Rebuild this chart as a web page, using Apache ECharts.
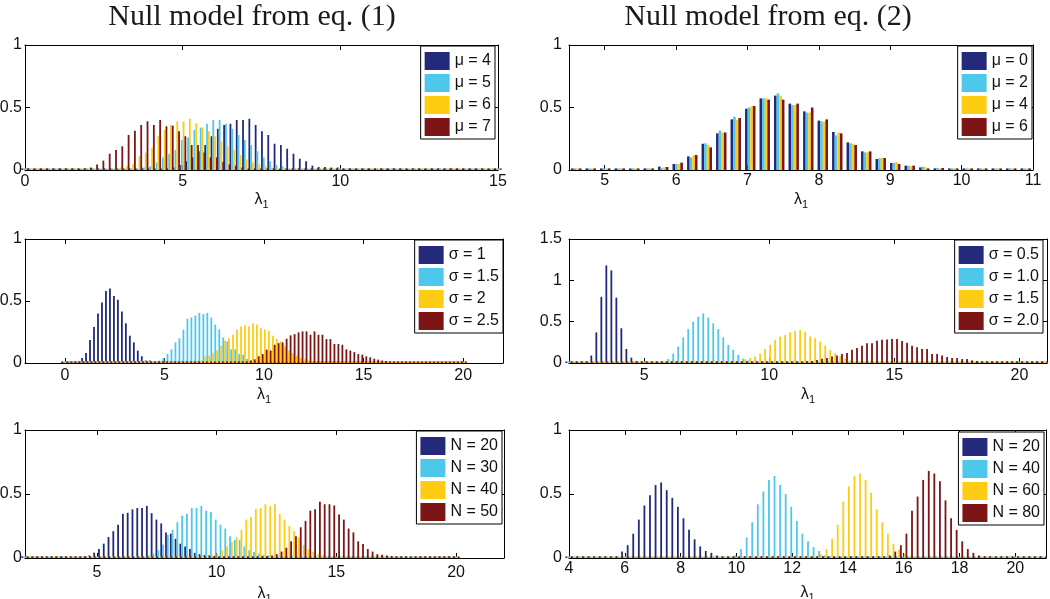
<!DOCTYPE html>
<html>
<head>
<meta charset="utf-8">
<script src="https://cdn.jsdelivr.net/npm/echarts@6/dist/echarts.min.js"></script>
<style>
html,body{margin:0;padding:0;background:#fff;}
#chart{width:1050px;height:599px;}
</style>
</head>
<body>
<div id="chart"></div>
<script>
// ---------------- DATA ----------------
const titles = ['Null model from eq. (1)', 'Null model from eq. (2)'];

// Panel 1 (eq. 1, varying mu)
const p1Bins = [0,0.2,0.4,0.6,0.8,1,1.2,1.4,1.6,1.8,2,2.2,2.4,2.6,2.8,3,3.2,3.4,3.6,3.8,4,4.2,4.4,4.6,4.8,5,5.2,5.4,5.6,5.8,6,6.2,6.4,6.6,6.8,7,7.2,7.4,7.6,7.8,8,8.2,8.4,8.6,8.8,9,9.2,9.4,9.6,9.8,10,10.2,10.4,10.6,10.8,11,11.2,11.4,11.6,11.8,12,12.2,12.4,12.6,12.8,13,13.2,13.4,13.6,13.8,14,14.2,14.4,14.6,14.8,15];
const p1Labels = ['μ = 4','μ = 5','μ = 6','μ = 7'];
const p1Starts = [4.4, 3.6, 2.8, 1.8];
const p1S1 = [0.005,0.01,0.02,0.04,0.07,0.1,0.15,0.2,0.27,0.33,0.36,0.37,0.4,0.4,0.41,0.36,0.31,0.28,0.21,0.2,0.17,0.13,0.09,0.07,0.035,0.025,0.025,0.02,0.02];
const p1S2 = [0.01,0.02,0.03,0.06,0.1,0.13,0.16,0.24,0.26,0.32,0.34,0.37,0.4,0.4,0.37,0.33,0.28,0.24,0.2,0.15,0.1,0.07,0.04,0.03,0.01];
const p1S3 = [0.01,0.02,0.03,0.05,0.11,0.14,0.18,0.27,0.32,0.36,0.39,0.39,0.41,0.375,0.34,0.31,0.27,0.23,0.19,0.16,0.12,0.085,0.06,0.045,0.03,0.02,0.01];
const p1S4 = [0.01,0.02,0.045,0.075,0.13,0.16,0.19,0.28,0.315,0.36,0.39,0.36,0.4,0.35,0.355,0.31,0.27,0.2,0.2,0.14,0.1,0.1,0.065,0.045,0.035,0.02,0.01,0.01,0.005];
const p1XTicks = [0,5,10,15];
const p1YTicks = [0,0.5,1];

// Panel 2 (eq. 2, varying mu)
const p2Bins = [4.602,4.805,5.008,5.211,5.414,5.617,5.82,6.023,6.227,6.43,6.633,6.836,7.039,7.242,7.445,7.648,7.852,8.055,8.258,8.461,8.664,8.867,9.07,9.273,9.477,9.68,9.883,10.086,10.289,10.492,10.695,10.898];
const p2Labels = ['μ = 0','μ = 2','μ = 4','μ = 6'];
const p2Starts = [4.602, 4.602, 4.602, 4.602];
const p2S1 = [0,0,0,0,0.002,0.005,0.027,0.048,0.109,0.21,0.293,0.405,0.49,0.573,0.595,0.531,0.469,0.395,0.304,0.221,0.149,0.088,0.056,0.035,0.021,0.013,0.005,0.003,0.002,0,0,0];
const p2S2 = [0,0,0,0,0.002,0.003,0.013,0.048,0.099,0.213,0.315,0.427,0.5,0.573,0.613,0.52,0.459,0.389,0.277,0.213,0.141,0.093,0.056,0.035,0.027,0.016,0.005,0.003,0.002,0,0,0];
const p2S3 = [0,0,0,0,0.002,0.005,0.024,0.048,0.117,0.2,0.3,0.4,0.509,0.573,0.595,0.52,0.459,0.387,0.3,0.208,0.141,0.099,0.064,0.032,0.021,0.011,0.005,0.003,0.002,0,0,0];
const p2S4 = [0,0,0,0,0.002,0.005,0.024,0.059,0.12,0.181,0.3,0.416,0.512,0.563,0.563,0.531,0.5,0.405,0.293,0.2,0.149,0.096,0.048,0.035,0.011,0.016,0.01,0.004,0.002,0,0,0];
const p2XTicks = [5,6,7,8,9,10,11];
const p2YTicks = [0,0.5,1];

// Panel 3 (eq. 1, varying sigma)
const p3Bins = [0,0.2,0.4,0.6,0.8,1,1.2,1.4,1.6,1.8,2,2.2,2.4,2.6,2.8,3,3.2,3.4,3.6,3.8,4,4.2,4.4,4.6,4.8,5,5.2,5.4,5.6,5.8,6,6.2,6.4,6.6,6.8,7,7.2,7.4,7.6,7.8,8,8.2,8.4,8.6,8.8,9,9.2,9.4,9.6,9.8,10,10.2,10.4,10.6,10.8,11,11.2,11.4,11.6,11.8,12,12.2,12.4,12.6,12.8,13,13.2,13.4,13.6,13.8,14,14.2,14.4,14.6,14.8,15,15.2,15.4,15.6,15.8,16,16.2,16.4,16.6,16.8,17,17.2,17.4,17.6,17.8,18,18.2,18.4,18.6,18.8,19,19.2,19.4,19.6,19.8,20];
const p3Labels = ['σ = 1','σ = 1.5','σ = 2','σ = 2.5'];
const p3Starts = [0.4, 4.6, 6.4, 8.6];
const p3S1 = [0.005,0.008,0.013,0.04,0.08,0.185,0.29,0.4,0.488,0.58,0.6,0.54,0.51,0.415,0.32,0.22,0.166,0.1,0.054,0.02,0.02,0.01,0.008];
const p3S2 = [0.01,0.02,0.04,0.075,0.11,0.166,0.2,0.27,0.357,0.367,0.383,0.405,0.394,0.405,0.367,0.31,0.27,0.206,0.174,0.11,0.11,0.072,0.067,0.032,0.02,0.01,0.005];
const p3S3 = [0.005,0.01,0.02,0.054,0.06,0.08,0.1,0.14,0.18,0.2,0.228,0.27,0.295,0.303,0.295,0.32,0.31,0.28,0.27,0.26,0.22,0.196,0.174,0.134,0.1,0.08,0.06,0.04,0.03,0.02,0.015,0.01,0.01,0.005,0.005];
const p3S4 = [0.005,0.01,0.013,0.02,0.03,0.054,0.072,0.107,0.1,0.147,0.16,0.166,0.196,0.223,0.233,0.247,0.255,0.255,0.228,0.255,0.228,0.228,0.193,0.193,0.153,0.153,0.147,0.11,0.1,0.088,0.072,0.067,0.054,0.046,0.035,0.027,0.02,0.016,0.012,0.01,0.01,0.01,0.01,0.008,0.005,0.003];
const p3XTicks = [0,5,10,15,20];
const p3YTicks = [0,0.5,1];

// Panel 4 (eq. 2, varying sigma)
const p4Bins = [2,2.2,2.4,2.6,2.8,3,3.2,3.4,3.6,3.8,4,4.2,4.4,4.6,4.8,5,5.2,5.4,5.6,5.8,6,6.2,6.4,6.6,6.8,7,7.2,7.4,7.6,7.8,8,8.2,8.4,8.6,8.8,9,9.2,9.4,9.6,9.8,10,10.2,10.4,10.6,10.8,11,11.2,11.4,11.6,11.8,12,12.2,12.4,12.6,12.8,13,13.2,13.4,13.6,13.8,14,14.2,14.4,14.6,14.8,15,15.2,15.4,15.6,15.8,16,16.2,16.4,16.6,16.8,17,17.2,17.4,17.6,17.8,18,18.2,18.4,18.6,18.8,19,19.2,19.4,19.6,19.8,20,20.2,20.4,20.6,20.8,21];
const p4Labels = ['σ = 0.5','σ = 1.0','σ = 1.5','σ = 2.0'];
const p4Starts = [2.8, 5.6, 8.6, 11];
const p4S1 = [0.02,0.09,0.37,0.8,1.18,1.12,0.79,0.42,0.17,0.065,0.025,0.01];
const p4S2 = [0.005,0.016,0.048,0.113,0.2,0.31,0.41,0.5,0.56,0.6,0.55,0.48,0.41,0.31,0.22,0.16,0.1,0.052,0.03,0.015,0.008,0.004];
const p4S3 = [0.01,0.02,0.045,0.06,0.08,0.113,0.17,0.22,0.28,0.32,0.34,0.37,0.39,0.4,0.375,0.32,0.3,0.26,0.21,0.16,0.12,0.08,0.05,0.03,0.02,0.01,0.005];
const p4S4 = [0.005,0.01,0.02,0.025,0.035,0.05,0.06,0.08,0.09,0.11,0.12,0.16,0.18,0.21,0.24,0.24,0.27,0.28,0.285,0.29,0.29,0.265,0.245,0.21,0.19,0.17,0.17,0.11,0.11,0.09,0.072,0.06,0.06,0.048,0.048,0.032,0.025,0.02,0.015,0.01,0.01,0.008,0.005,0.003];
const p4XTicks = [5,10,15,20];
const p4YTicks = [0,0.5,1,1.5];

// Panel 5 (eq. 1, varying N)
const p5Bins = [2,2.2,2.4,2.6,2.8,3,3.2,3.4,3.6,3.8,4,4.2,4.4,4.6,4.8,5,5.2,5.4,5.6,5.8,6,6.2,6.4,6.6,6.8,7,7.2,7.4,7.6,7.8,8,8.2,8.4,8.6,8.8,9,9.2,9.4,9.6,9.8,10,10.2,10.4,10.6,10.8,11,11.2,11.4,11.6,11.8,12,12.2,12.4,12.6,12.8,13,13.2,13.4,13.6,13.8,14,14.2,14.4,14.6,14.8,15,15.2,15.4,15.6,15.8,16,16.2,16.4,16.6,16.8,17,17.2,17.4,17.6,17.8,18,18.2,18.4,18.6,18.8,19,19.2,19.4,19.6,19.8,20];
const p5Labels = ['N = 20','N = 30','N = 40','N = 50'];
const p5Starts = [4.2, 6.8, 9.4, 11.4];
const p5S1 = [0.005,0.01,0.015,0.02,0.042,0.07,0.112,0.164,0.21,0.26,0.345,0.353,0.38,0.39,0.39,0.407,0.35,0.3,0.27,0.2,0.19,0.15,0.112,0.09,0.07,0.04,0.03,0.023,0.02,0.015,0.01,0.008,0.005];
const p5S2 = [0.005,0.01,0.02,0.035,0.06,0.105,0.18,0.22,0.28,0.33,0.345,0.39,0.39,0.407,0.37,0.36,0.3,0.26,0.23,0.17,0.14,0.14,0.09,0.06,0.047,0.034,0.025,0.02,0.012,0.008,0.005];
const p5S3 = [0.005,0.01,0.02,0.03,0.06,0.09,0.125,0.16,0.22,0.3,0.32,0.385,0.39,0.42,0.405,0.42,0.345,0.3,0.25,0.21,0.16,0.1,0.07,0.05,0.03,0.02,0.01,0.005];
const p5S4 = [0.005,0.01,0.01,0.015,0.02,0.03,0.05,0.08,0.13,0.17,0.24,0.29,0.37,0.38,0.44,0.42,0.42,0.41,0.34,0.3,0.23,0.2,0.13,0.11,0.07,0.05,0.03,0.025,0.02,0.015,0.01,0.01,0.005];
const p5XTicks = [5,10,15,20];
const p5YTicks = [0,0.5,1];

// Panel 6 (eq. 2, varying N)
const p6Bins = [4,4.2,4.4,4.6,4.8,5,5.2,5.4,5.6,5.8,6,6.2,6.4,6.6,6.8,7,7.2,7.4,7.6,7.8,8,8.2,8.4,8.6,8.8,9,9.2,9.4,9.6,9.8,10,10.2,10.4,10.6,10.8,11,11.2,11.4,11.6,11.8,12,12.2,12.4,12.6,12.8,13,13.2,13.4,13.6,13.8,14,14.2,14.4,14.6,14.8,15,15.2,15.4,15.6,15.8,16,16.2,16.4,16.6,16.8,17,17.2,17.4,17.6,17.8,18,18.2,18.4,18.6,18.8,19,19.2,19.4,19.6,19.8,20,20.2,20.4,20.6,20.8,21];
const p6Labels = ['N = 20','N = 40','N = 60','N = 80'];
const p6Starts = [5.4, 9.6, 12.4, 15];
const p6S1 = [0.003,0.005,0.01,0.05,0.1,0.19,0.3,0.41,0.49,0.57,0.59,0.53,0.47,0.4,0.31,0.22,0.146,0.09,0.055,0.04,0.02,0.01,0.005];
const p6S2 = [0.005,0.01,0.02,0.07,0.16,0.28,0.42,0.52,0.61,0.64,0.57,0.5,0.4,0.29,0.19,0.13,0.086,0.055,0.02,0.01,0.005];
const p6S3 = [0.005,0.01,0.01,0.03,0.07,0.15,0.26,0.44,0.56,0.64,0.66,0.61,0.51,0.38,0.28,0.19,0.11,0.066,0.035,0.015,0.008,0.004];
const p6S4 = [0.005,0.01,0.02,0.05,0.1,0.19,0.37,0.48,0.61,0.68,0.66,0.6,0.45,0.31,0.22,0.13,0.07,0.04,0.02,0.01,0.005];
const p6XTicks = [4,6,8,10,12,14,16,18,20];
const p6YTicks = [0,0.5,1];

// ---------------- STYLE / LAYOUT ----------------
const COLORS = ['#232a7c', '#4ec8ea', '#ffcc14', '#7d1416'];
const SANS = '"Liberation Sans", Arial, Helvetica, sans-serif';
const TXT = '#111';

const panels = [
  {bins:p1Bins, labels:p1Labels, starts:p1Starts, vals:[p1S1,p1S2,p1S3,p1S4], xTicks:p1XTicks, yTicks:p1YTicks,
   grid:{left:25, top:45, width:473, height:125}, xMin:0, xMax:15, yMax:1, lblMargin:4, yLblMargin:3, nameGap:20, legRight:555, legTop:46},
  {bins:p2Bins, labels:p2Labels, starts:p2Starts, vals:[p2S1,p2S2,p2S3,p2S4], xTicks:p2XTicks, yTicks:p2YTicks,
   grid:{left:569, top:45, width:464, height:125}, xMin:4.5, xMax:11, yMax:1, lblMargin:3, yLblMargin:7, nameGap:20, legRight:18, legTop:46},
  {bins:p3Bins, labels:p3Labels, starts:p3Starts, vals:[p3S1,p3S2,p3S3,p3S4], xTicks:p3XTicks, yTicks:p3YTicks,
   grid:{left:25, top:239, width:478, height:124}, xMin:-2, xMax:22, yMax:1, lblMargin:5, yLblMargin:3, nameGap:22, legRight:547, legTop:240},
  {bins:p4Bins, labels:p4Labels, starts:p4Starts, vals:[p4S1,p4S2,p4S3,p4S4], xTicks:p4XTicks, yTicks:p4YTicks,
   grid:{left:569, top:239, width:478, height:124}, xMin:2, xMax:21.1, yMax:1.5, lblMargin:5, yLblMargin:7, nameGap:22, legRight:7, legTop:240},
  {bins:p5Bins, labels:p5Labels, starts:p5Starts, vals:[p5S1,p5S2,p5S3,p5S4], xTicks:p5XTicks, yTicks:p5YTicks,
   grid:{left:25, top:430, width:479, height:128}, xMin:2, xMax:22, yMax:1, lblMargin:7, yLblMargin:3, nameGap:26, legRight:548, legTop:431},
  {bins:p6Bins, labels:p6Labels, starts:p6Starts, vals:[p6S1,p6S2,p6S3,p6S4], xTicks:p6XTicks, yTicks:p6YTicks,
   grid:{left:569, top:430, width:477, height:128}, xMin:4, xMax:21.1, yMax:1, lblMargin:3, yLblMargin:7, nameGap:25, legRight:6, legTop:432}
];

function seriesData(bins, start, values) {
  const s = bins.indexOf(start);
  return bins.map(function (x, i) {
    const j = i - s;
    return [x, (j >= 0 && j < values.length) ? values[j] : 0];
  });
}

const grids = [], xAxes = [], yAxes = [], series = [], legends = [];
panels.forEach(function (p, i) {
  grids.push(Object.assign({containLabel:false, outerBoundsMode:'none'}, p.grid));
  const tickStyle = {color:'#000', width:1};
  xAxes.push({
    type:'value', gridIndex:i, min:p.xMin, max:p.xMax, position:'bottom',
    axisLine:{show:true, onZero:false, lineStyle:{color:'#000', width:1}},
    axisTick:{show:true, inside:true, length:5, customValues:p.xTicks, lineStyle:tickStyle},
    axisLabel:{show:true, customValues:p.xTicks, margin:p.lblMargin, fontSize:16, color:TXT, fontFamily:SANS, hideOverlap:false},
    splitLine:{show:false},
    name:'{l|λ}{s|1}', nameLocation:'middle', nameGap:p.nameGap,
    nameTextStyle:{rich:{l:{fontSize:16, fontFamily:SANS, color:TXT}, s:{fontSize:11, fontFamily:SANS, color:TXT, padding:[9,0,0,0]}}}
  });
  xAxes.push({
    type:'value', gridIndex:i, min:p.xMin, max:p.xMax, position:'top',
    axisLine:{show:true, onZero:false, lineStyle:{color:'#000', width:1}},
    axisTick:{show:true, inside:true, length:5, customValues:p.xTicks, lineStyle:tickStyle},
    axisLabel:{show:false}, splitLine:{show:false}
  });
  yAxes.push({
    type:'value', gridIndex:i, min:0, max:p.yMax, position:'left',
    axisLine:{show:true, onZero:false, lineStyle:{color:'#000', width:1}},
    axisTick:{show:true, inside:true, length:5, customValues:p.yTicks, lineStyle:tickStyle},
    axisLabel:{show:true, customValues:p.yTicks, margin:p.yLblMargin, fontSize:16, color:TXT, fontFamily:SANS},
    splitLine:{show:false}
  });
  yAxes.push({
    type:'value', gridIndex:i, min:0, max:p.yMax, position:'right',
    axisLine:{show:true, onZero:false, lineStyle:{color:'#000', width:1}},
    axisTick:{show:true, inside:true, length:5, customValues:p.yTicks, lineStyle:tickStyle},
    axisLabel:{show:false}, splitLine:{show:false}
  });
  const names = [];
  p.vals.forEach(function (vals, k) {
    const nm = 'p' + (i + 1) + '|' + p.labels[k];
    names.push(nm);
    series.push({
      type:'bar', name:nm, xAxisIndex:2 * i, yAxisIndex:2 * i,
      data:seriesData(p.bins, p.starts[k], vals),
      barWidth:'18%', barMinWidth:1.8, barGap:'0%', barMinHeight:1.6,
      itemStyle:{color:COLORS[k]}, silent:true, animation:false,
      emphasis:{disabled:true}, clip:true
    });
  });
  legends.push({
    show:true, orient:'vertical', right:p.legRight, top:p.legTop, data:names,
    formatter:function (n) { return n.split('|')[1]; },
    icon:'rect', itemWidth:25, itemHeight:18, itemGap:4, padding:[6,4,3,4],
    backgroundColor:'#fff', borderColor:'#000', borderWidth:1, borderRadius:0,
    selectedMode:false, itemStyle:{borderWidth:0},
    textStyle:{fontSize:16, color:TXT, fontFamily:SANS}
  });
});

const chart = echarts.init(document.getElementById('chart'), null, {renderer:'canvas'});
chart.setOption({
  animation:false,
  backgroundColor:'#fff',
  graphic:[
    {type:'text', x:252, y:2, style:{text:titles[0], font:'30px "Liberation Serif", "Times New Roman", serif', fill:'#1a1a1a', align:'center', verticalAlign:'top'}},
    {type:'text', x:768, y:2, style:{text:titles[1], font:'30px "Liberation Serif", "Times New Roman", serif', fill:'#1a1a1a', align:'center', verticalAlign:'top'}}
  ],
  grid:grids, xAxis:xAxes, yAxis:yAxes, legend:legends, series:series
});
</script>
</body>
</html>
